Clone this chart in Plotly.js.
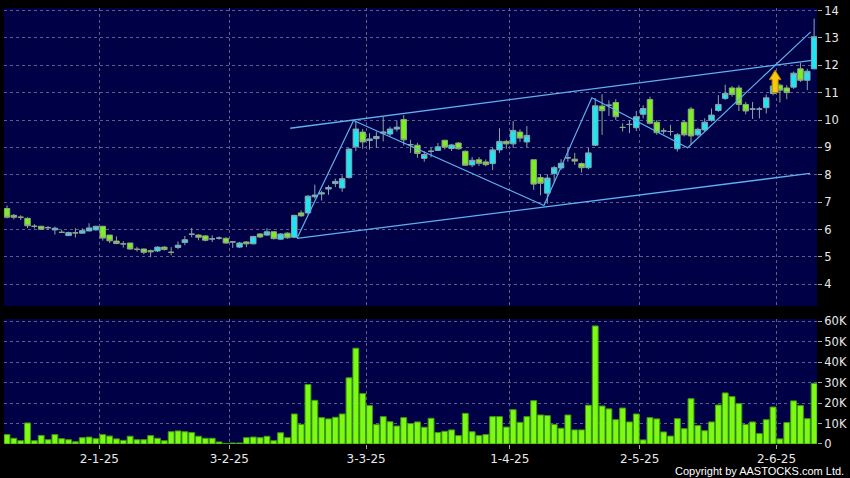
<!DOCTYPE html>
<html>
<head>
<meta charset="utf-8">
<script src="https://cdn.plot.ly/plotly-3.0.1.min.js"></script>
<style>html,body{margin:0;padding:0;background:#000;}#chart{width:850px;height:478px;}</style>
</head>
<body>
<div id="chart"></div>
<script>
// Trading days (d-m-yy labels on axis)
const dates = [
 '2024-12-11','2024-12-12','2024-12-13','2024-12-16','2024-12-17','2024-12-18','2024-12-19','2024-12-20','2024-12-23','2024-12-24','2024-12-27','2024-12-30','2024-12-31',
 '2025-01-02','2025-01-03','2025-01-06','2025-01-07','2025-01-08','2025-01-09','2025-01-10','2025-01-13','2025-01-14','2025-01-15','2025-01-16','2025-01-17','2025-01-20','2025-01-21','2025-01-22','2025-01-23','2025-01-24','2025-01-27','2025-01-28',
 '2025-02-03','2025-02-04','2025-02-05','2025-02-06','2025-02-07','2025-02-10','2025-02-11','2025-02-12','2025-02-13','2025-02-14','2025-02-17','2025-02-18','2025-02-19','2025-02-20','2025-02-21','2025-02-24','2025-02-25','2025-02-26','2025-02-27','2025-02-28',
 '2025-03-03','2025-03-04','2025-03-05','2025-03-06','2025-03-07','2025-03-10','2025-03-11','2025-03-12','2025-03-13','2025-03-14','2025-03-17','2025-03-18','2025-03-19','2025-03-20','2025-03-21','2025-03-24','2025-03-25','2025-03-26','2025-03-27','2025-03-28','2025-03-31',
 '2025-04-01','2025-04-02','2025-04-03','2025-04-07','2025-04-08','2025-04-09','2025-04-10','2025-04-11','2025-04-14','2025-04-15','2025-04-16','2025-04-17','2025-04-22','2025-04-23','2025-04-24','2025-04-25','2025-04-28','2025-04-29','2025-04-30',
 '2025-05-02','2025-05-06','2025-05-07','2025-05-08','2025-05-09','2025-05-12','2025-05-13','2025-05-14','2025-05-15','2025-05-16','2025-05-19','2025-05-20','2025-05-21','2025-05-22','2025-05-23','2025-05-26','2025-05-27','2025-05-28','2025-05-29','2025-05-30',
 '2025-06-02','2025-06-03','2025-06-04','2025-06-05','2025-06-06','2025-06-09','2025-06-10'
];

const openP = [6.77,6.52,6.45,6.41,6.12,6.12,6.07,5.99,5.90,5.78,
 5.88,5.87,5.95,5.99,6.12,5.80,5.58,5.48,5.51,5.28,
 5.29,5.23,5.22,5.36,5.17,5.35,5.53,5.83,5.80,5.77,
 5.66,5.69,5.68,5.55,5.36,5.55,5.48,5.84,5.80,5.92,
 5.65,5.87,5.72,6.61,6.61,7.20,7.30,7.48,7.68,7.52,
 7.90,9.02,9.56,9.25,9.32,9.52,9.49,9.67,10.02,9.10,
 9.08,8.60,8.86,8.89,9.26,8.96,9.16,8.86,8.36,8.55,
 8.47,8.41,8.91,9.22,9.13,9.56,9.20,8.55,7.90,7.33,
 8.05,8.25,8.62,8.57,8.41,8.26,9.08,10.51,10.54,10.64,
 9.73,9.84,9.72,10.21,10.75,9.92,9.60,9.58,8.95,9.92,
 10.40,9.46,9.64,9.99,10.35,10.79,11.17,11.17,10.57,10.40,
 10.40,10.45,10.97,11.27,11.17,11.20,11.87,11.45,11.87];

const highP = [6.88,6.57,6.52,6.45,6.20,6.14,6.13,6.11,6.00,5.92,
 6.05,6.05,6.23,6.14,6.14,5.80,5.75,5.58,5.51,5.37,
 5.31,5.27,5.39,5.39,5.36,5.57,5.77,6.06,5.83,5.80,
 5.79,5.75,5.72,5.58,5.55,5.58,5.77,5.87,6.05,5.94,
 5.87,5.90,6.54,6.70,7.26,7.64,7.42,7.62,7.86,7.98,
 8.97,9.97,9.67,9.52,9.58,10.12,9.76,9.98,10.18,9.28,
 9.17,8.86,9.00,9.16,9.28,9.13,9.19,8.89,8.65,8.65,
 8.56,9.00,9.70,9.28,9.96,9.66,9.78,8.55,8.02,8.02,
 8.33,8.57,9.00,8.80,8.45,8.98,10.80,10.94,10.72,10.76,
 9.88,10.00,10.33,10.54,10.85,10.00,9.70,9.82,9.52,10.00,
 10.48,9.72,10.06,10.42,10.91,11.29,11.24,11.27,10.66,10.66,
 10.48,10.93,11.32,11.33,11.27,11.77,12.09,11.87,13.70];

const lowP = [6.41,6.37,6.35,6.05,6.04,5.99,5.99,5.82,5.88,5.77,
 5.71,5.86,5.94,5.96,5.60,5.51,5.47,5.34,5.27,5.20,
 5.10,4.99,5.18,5.24,5.06,5.29,5.43,5.72,5.61,5.57,
 5.55,5.63,5.48,5.33,5.33,5.36,5.46,5.69,5.77,5.64,
 5.63,5.67,5.69,6.47,6.55,7.13,7.06,7.27,7.55,7.38,
 7.86,8.87,8.95,8.92,8.98,9.22,9.40,9.58,9.07,8.80,
 8.62,8.48,8.64,8.87,8.93,8.87,8.93,8.33,8.28,8.32,
 8.31,8.17,8.80,8.95,8.98,9.20,9.00,7.45,7.25,6.95,
 7.72,8.17,8.48,8.36,8.08,8.20,9.05,9.46,10.15,10.00,
 9.58,9.52,9.60,10.06,9.84,9.46,9.48,9.43,8.85,9.40,
 9.10,9.40,9.58,9.94,10.30,10.73,10.85,10.33,10.21,10.04,
 10.06,10.24,10.90,10.64,10.76,11.14,11.39,11.09,11.85];

const closeP = [6.45,6.45,6.45,6.14,6.12,6.01,6.07,6.05,5.90,5.89,
 5.88,5.96,6.06,6.12,5.69,5.59,5.49,5.48,5.29,5.28,
 5.17,5.19,5.36,5.27,5.17,5.43,5.63,5.83,5.72,5.61,
 5.66,5.69,5.51,5.55,5.51,5.48,5.75,5.73,5.92,5.67,
 5.84,5.70,6.52,6.50,7.22,7.26,7.34,7.54,7.76,7.86,
 8.94,9.67,9.20,9.31,9.40,9.56,9.67,9.74,9.28,9.10,
 8.78,8.74,8.86,9.02,9.01,9.09,8.95,8.35,8.53,8.42,
 8.37,8.91,9.22,9.13,9.62,9.34,9.44,7.66,7.69,7.88,
 8.26,8.42,8.62,8.50,8.26,8.80,10.52,10.34,10.54,10.12,
 9.73,9.84,10.12,10.42,9.88,9.54,9.60,9.58,9.46,9.46,
 9.42,9.66,9.92,10.18,10.57,10.97,10.93,10.57,10.33,10.40,
 10.40,10.81,11.24,11.09,11.00,11.71,11.45,11.78,13.04];

const volume = [4600,2800,1600,10300,1600,4200,2100,4600,2600,2100,
 1100,3100,3400,2600,4600,3900,2500,1800,3800,2100,
 2100,4100,2800,1600,6000,6400,6000,5600,3800,2800,
 2800,1000,200,500,500,3100,3400,3100,3800,1600,
 5500,3100,14700,9600,29100,21400,12900,12300,13100,14700,
 32400,46900,24700,18800,9500,13400,10900,8800,12900,10000,
 10800,8200,12600,5600,6200,6900,4100,15000,6000,4100,
 4600,13400,13400,8300,16800,10600,13400,21200,14200,13900,
 9600,7700,14200,6900,6900,19000,57800,18600,17200,11900,
 17600,10800,14700,2000,12900,12300,5900,3900,12400,7500,
 22200,9000,6500,10800,19100,25000,23200,19800,9500,10800,
 5100,11900,18100,2500,10500,21100,18800,12400,29700];

// Axis labels
const tickDates = ['2025-01-02','2025-02-03','2025-03-03','2025-04-01','2025-05-02','2025-06-02'];
const tickText  = ['2-1-25','3-2-25','3-3-25','1-4-25','2-5-25','2-6-25'];
const priceTicks = [4,5,6,7,8,9,10,11,12,13,14];
const volTicks = [0,10000,20000,30000,40000,50000,60000];
const volTickText = ['0','10K','20K','30K','40K','50K','60K'];

// Trend lines drawn on the chart (bar index, price)
const channelUpX = [41.4, 117.7], channelUpY = [9.70, 12.18];
const channelLoX = [42.4, 117.4], channelLoY = [5.68, 8.05];
const zigzagX = [42.4, 50.66, 78.5, 85.5, 99.5, 117.5];
const zigzagY = [5.68, 9.98, 6.88, 10.81, 8.99, 13.22];
// Up arrow marker (bar index, tip price, base price)
const arrowAt = {x: 112.3, top: 11.82, base: 11.0};

const xi = dates.map((d, i) => i);
const tickVals = tickDates.map(d => dates.indexOf(d) + 0.5);

const lineColor = '#5fb0ee';
const traces = [
  {type:'candlestick', x: xi, open: openP, high: highP, low: lowP, close: closeP,
   xaxis:'x', yaxis:'y', hoverinfo:'skip', whiskerwidth:0,
   increasing:{line:{color:'#88a8ae', width:1}, fillcolor:'#1ee4f4'},
   decreasing:{line:{color:'#8ea884', width:1}, fillcolor:'#7cf01e'}},
  {type:'bar', x: xi, y: volume, xaxis:'x', yaxis:'y2', width:0.86, hoverinfo:'skip',
   marker:{color:'#7cfa14', line:{color:'#3f9a10', width:1}}},
  {type:'scatter', mode:'lines', x: channelUpX, y: channelUpY, xaxis:'x', yaxis:'y', line:{color:lineColor, width:1.3}, hoverinfo:'skip'},
  {type:'scatter', mode:'lines', x: channelLoX, y: channelLoY, xaxis:'x', yaxis:'y', line:{color:lineColor, width:1.3}, hoverinfo:'skip'},
  {type:'scatter', mode:'lines', x: zigzagX, y: zigzagY, xaxis:'x', yaxis:'y', line:{color:lineColor, width:1.2}, hoverinfo:'skip'}
];

// arrow polygon around anchor
const hw = 0.85, sw = 0.44, headH = (arrowAt.top - arrowAt.base) * 0.42;
const hb = arrowAt.top - headH;
const ax0 = arrowAt.x;
const arrowPath = `M${ax0},${arrowAt.top} L${ax0+hw},${hb} L${ax0+sw},${hb} L${ax0+sw},${arrowAt.base} L${ax0-sw},${arrowAt.base} L${ax0-sw},${hb} L${ax0-hw},${hb} Z`;

const gridCol = '#5e5e88';
const layout = {
  width:850, height:478,
  paper_bgcolor:'#000000', plot_bgcolor:'#000046',
  margin:{l:4, r:33, t:8, b:34},
  showlegend:false,
  font:{family:'DejaVu Sans, sans-serif', color:'#e6e6e6', size:12},
  boxgap:0.2, boxgroupgap:0,
  bargap:0.1,
  xaxis:{domain:[0,1], anchor:'y2', range:[-0.44, 118.42], tickmode:'array', tickvals: tickVals, ticktext: tickText,
    ticks:'outside', ticklen:4, tickcolor:'#aaaaaa', showgrid:true, gridcolor:gridCol, griddash:'dot', gridwidth:1,
    zeroline:false, showline:false, rangeslider:{visible:false}, tickfont:{size:12, color:'#e8e8e8'}, fixedrange:true},
  yaxis:{domain:[0.3165,1], anchor:'x', side:'right', range:[3.21,14.09], tickmode:'array', tickvals: priceTicks,
    ticks:'outside', ticklen:4, tickcolor:'#aaaaaa', showgrid:true, gridcolor:gridCol, griddash:'dot', gridwidth:1,
    zeroline:false, showline:false, tickfont:{size:11.5, color:'#e8e8e8'}, fixedrange:true},
  yaxis2:{domain:[0,0.2867], anchor:'x', side:'right', range:[0,61200], tickmode:'array', tickvals: volTicks, ticktext: volTickText,
    ticks:'outside', ticklen:4, tickcolor:'#aaaaaa', showgrid:true, gridcolor:gridCol, griddash:'dot', gridwidth:1,
    zeroline:false, showline:false, tickfont:{size:11.5, color:'#e8e8e8'}, fixedrange:true},
  shapes:[
    {type:'path', xref:'x', yref:'y', path: arrowPath, fillcolor:'#f6c80e', line:{color:'#b88400', width:1}}
  ],
  annotations:[
    {xref:'paper', yref:'paper', x:1.0357, y:-0.062, xanchor:'right', yanchor:'middle', showarrow:false,
     text:'Copyright by AASTOCKS.com Ltd.', font:{family:'Liberation Sans, Arial, sans-serif', size:11, color:'#ffffff'}}
  ]
};

Plotly.newPlot('chart', traces, layout, {staticPlot:true, displayModeBar:false});
</script>
</body>
</html>
